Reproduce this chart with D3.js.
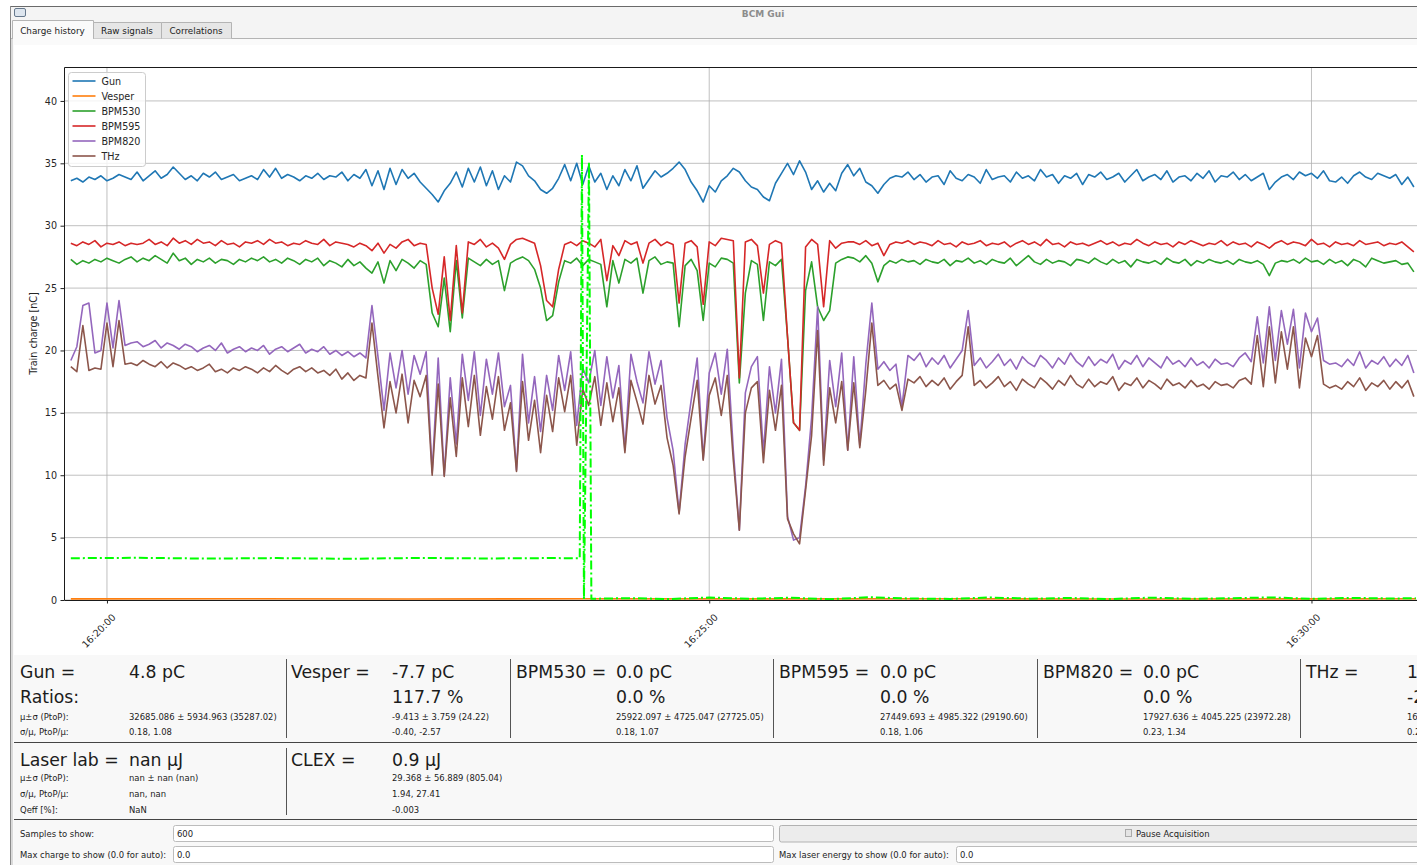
<!DOCTYPE html>
<html>
<head>
<meta charset="utf-8">
<script src="https://cdn.jsdelivr.net/npm/d3@7/dist/d3.min.js"></script>
<style>
  body { margin: 0; background: #f6f6f6; overflow: hidden; }
  svg { display: block; }
  .qt { font-family: "DejaVu Sans", sans-serif; fill: #1c1c1c; }
  .big { font-size: 17.3px; }
  .small { font-family: "DejaVu Sans Condensed", "DejaVu Sans", sans-serif; font-stretch: condensed; font-size: 9.4px; fill: #1c1c1c; }
  .mpl { font-family: "DejaVu Sans", sans-serif; font-size: 9.6px; fill: #262626; }
</style>
</head>
<body>
<div id="viz"></div>
<script>
var W = 1417, H = 865;

/***************** Data *********************/
// charge history sampled every 3 s from 16:19:42 (nC)
var startTime = "16:19:42", stepSec = 3;

var gun = [
  33.6, 33.8, 33.5, 33.9, 33.7, 34.0, 33.6, 33.8, 34.1, 33.9,
  33.7, 34.3, 33.6, 34.0, 34.4, 33.8, 34.1, 34.7, 34.2, 33.7,
  34.0, 33.6, 34.2, 33.9, 34.3, 33.7, 33.9, 34.1, 33.6, 33.8,
  34.0, 33.7, 34.5, 33.9, 34.6, 33.8, 34.1, 33.9, 33.6, 34.0,
  33.8, 34.2, 33.7, 34.0, 33.9, 34.3, 33.6, 34.1, 33.8, 34.5,
  33.2, 34.4, 32.9, 34.6, 33.3, 34.5, 33.8, 34.2, 33.5, 33.0,
  32.5, 31.9, 32.8, 33.4, 34.3, 33.1, 34.6, 33.5, 34.7, 33.2,
  34.4, 32.9, 34.0, 33.5, 35.1, 34.8, 34.0, 33.6, 32.9, 32.6,
  33.0, 33.8, 34.9, 33.6, 35.0, 33.3, 34.8, 33.5, 34.2, 32.9,
  34.0, 33.2, 34.5, 33.6, 34.8, 33.0, 33.7, 34.4, 33.9, 34.2,
  34.6, 35.1, 34.5, 33.5, 32.8, 31.9, 33.2, 32.7, 33.6, 34.0,
  34.6, 34.3, 33.6, 33.1, 32.9, 32.3, 32.0, 33.4, 34.2, 35.0,
  34.1, 35.2, 34.3, 32.9, 33.6, 32.7, 33.4, 32.8, 34.2, 34.9,
  34.0, 34.6, 33.5, 33.2, 32.6, 33.3, 33.8, 34.0, 33.9, 34.3,
  33.7, 34.1, 33.5, 33.9, 34.0, 33.3, 34.4, 33.8, 33.6, 34.1,
  33.9, 33.4, 34.5, 33.7, 33.9, 34.0, 33.5, 34.3, 33.8, 34.0,
  33.6, 34.5, 33.9, 34.1, 33.4, 34.0, 33.8, 34.2, 33.3, 34.1,
  33.9, 34.3, 33.7, 33.9, 34.2, 33.5, 34.0, 34.5, 33.6, 33.9,
  34.1, 33.7, 34.4, 33.5, 33.9, 34.0, 33.6, 34.2, 33.8, 34.4,
  33.5, 34.0, 33.9, 34.3, 33.7, 34.1, 33.6, 33.9, 34.2, 32.9,
  33.5, 33.9, 34.1, 33.7, 34.3, 34.0, 34.2, 33.8, 34.4, 33.6,
  33.5, 33.9, 33.4, 34.0, 34.3, 33.9, 33.7, 34.2, 34.0, 33.8,
  34.1, 33.3, 33.9, 33.1
];

var bpm530 = [
  27.3, 26.9, 27.2, 27.0, 27.3, 27.1, 27.4, 27.2, 27.0, 27.3,
  27.5, 27.1, 27.4, 27.2, 27.6, 27.3, 27.0, 27.8, 27.2, 27.4,
  26.9, 27.3, 27.1, 27.4, 27.0, 27.3, 27.2, 26.9, 27.3, 27.1,
  27.4, 27.2, 27.5, 27.1, 27.3, 27.0, 27.4, 27.2, 26.9, 27.3,
  27.1, 27.4, 26.8, 27.2, 27.0, 26.7, 27.3, 26.8, 27.1, 26.6,
  26.2, 27.1, 25.4, 27.2, 26.4, 27.3, 27.0, 26.6, 27.2, 26.9,
  23.0, 21.9, 25.8, 21.5, 27.2, 22.6, 27.4, 27.1, 26.8, 27.3,
  26.9, 27.2, 24.8, 27.0, 27.3, 27.5, 27.2, 26.5, 25.0, 22.4,
  22.8, 25.5, 27.2, 27.0, 27.4, 26.8, 27.3, 27.1, 26.9, 23.5,
  27.2, 25.4, 27.3, 27.0, 27.4, 24.6, 27.2, 27.5, 26.9, 27.1,
  27.0, 21.9, 26.8, 27.3, 26.4, 22.4, 27.0, 26.7, 27.4, 27.3,
  27.0, 17.4, 24.6, 27.2, 26.9, 22.4, 27.1, 26.8, 27.3, 21.1,
  14.2, 13.6, 24.8, 27.1, 23.5, 22.4, 23.2, 27.0, 27.3, 27.5,
  27.4, 27.1, 27.6, 27.0, 25.5, 26.8, 27.2, 27.0, 27.3, 27.1,
  27.2, 26.9, 27.3, 27.1, 27.0, 27.3, 26.8, 27.2, 27.1, 27.4,
  27.0, 27.2, 26.9, 27.3, 27.1, 27.0, 27.4, 26.8, 27.2, 27.6,
  27.1, 26.9, 27.3, 27.0, 27.2, 27.1, 26.8, 27.3, 27.2, 27.0,
  27.4, 27.1, 26.9, 27.3, 27.0, 27.2, 26.7, 27.3, 27.1, 27.0,
  27.2, 26.9, 27.4, 27.1, 27.0, 27.3, 26.8, 27.2, 27.0, 27.3,
  27.1, 27.0, 27.2, 26.9, 27.3, 27.1, 27.0, 27.2, 26.9, 26.0,
  27.0, 27.2, 27.1, 27.3, 27.0, 27.4, 27.1, 27.2, 26.9, 27.3,
  27.0, 27.2, 26.8, 27.3, 27.1, 26.7, 27.4, 27.2, 27.0, 27.1,
  27.2, 26.9, 27.0, 26.3
];

var bpm595 = [
  28.6, 28.4, 28.7, 28.5, 28.8, 28.3, 28.6, 28.5, 28.7, 28.4,
  28.6, 28.5, 28.6, 28.9, 28.5, 28.7, 28.4, 29.0, 28.6, 28.8,
  28.5, 28.9, 28.6, 28.7, 28.4, 28.8, 28.5, 28.6, 28.3, 28.7,
  28.6, 28.8, 28.5, 28.9, 28.6, 28.7, 28.4, 28.6, 28.5, 28.8,
  28.6, 28.5, 28.9, 28.4, 28.7, 28.6, 28.5, 28.3, 28.6, 28.4,
  28.0, 28.6, 27.8, 28.5, 28.2, 28.7, 28.9, 28.4, 28.6, 28.5,
  25.0, 22.9, 27.5, 22.4, 28.4, 23.0, 28.7, 28.5, 28.9, 28.3,
  28.6, 28.2, 27.3, 28.5, 28.9, 29.0, 28.8, 28.6, 26.8, 24.0,
  23.5, 26.5, 28.5, 28.7, 28.4, 28.8, 28.6, 28.3, 28.9, 25.6,
  28.4, 27.6, 28.8, 28.5, 28.7, 27.0, 28.6, 28.9, 28.4, 28.7,
  28.5, 23.8, 28.6, 28.8, 28.3, 23.7, 28.7, 28.4, 29.0, 28.9,
  28.8, 17.8, 28.7, 28.9, 28.4, 24.6, 28.5, 28.8, 28.6, 21.1,
  14.2, 13.6, 28.3, 28.9, 28.5, 23.5, 28.8, 28.2, 28.6, 28.7,
  28.7, 28.5, 28.8, 28.4, 28.6, 27.6, 28.5, 28.7, 28.6, 28.8,
  28.5, 28.7, 28.6, 28.4, 28.8, 28.5, 28.6, 28.3, 28.7, 28.5,
  28.6, 28.8, 28.4, 28.6, 28.5, 28.7, 28.3, 28.6, 28.8, 28.5,
  28.7, 28.4, 28.9, 28.5, 28.6, 28.3, 28.7, 28.5, 28.6, 28.4,
  28.6, 28.8, 28.5, 28.7, 28.4, 28.6, 28.5, 28.9, 28.6, 28.4,
  28.7, 28.5, 28.6, 28.3, 28.7, 28.5, 28.8, 28.6, 28.4, 28.6,
  28.5, 28.8, 28.4, 28.7, 28.5, 28.6, 28.3, 28.7, 28.5, 28.2,
  28.6, 28.8, 28.5, 28.7, 28.6, 28.4, 28.9, 28.5, 28.6, 28.3,
  28.7, 28.5, 28.6, 28.4, 28.8, 28.5, 28.6, 28.7, 28.4, 28.6,
  28.5, 28.7, 28.3, 27.9
];

var bpm820 = [
  19.2, 20.3, 23.6, 23.8, 19.8, 20.0, 23.8, 20.2, 24.0, 20.4,
  20.6, 20.7, 20.3, 20.5, 20.8, 20.2, 20.6, 20.4, 20.1, 20.5,
  20.3, 19.9, 20.2, 20.4, 20.0, 20.6, 19.8, 20.1, 20.3, 19.9,
  20.2, 20.0, 20.4, 19.7, 20.1, 20.3, 19.9, 20.2, 20.5, 19.8,
  20.1, 19.9, 20.3, 19.7, 20.0, 19.6, 19.9, 19.5, 19.8, 19.4,
  23.6, 19.5, 15.2, 19.8, 17.0, 20.0, 16.5, 19.6, 18.1, 19.9,
  10.2, 19.4, 10.0, 17.8, 12.5, 19.7, 16.0, 19.9, 14.8, 19.3,
  16.5, 19.8, 15.5, 17.2, 10.4, 19.7, 14.2, 17.9, 13.5, 18.0,
  15.2, 19.6, 16.8, 19.9, 14.0, 18.6, 17.4, 20.0, 15.6, 19.5,
  16.2, 18.8, 12.0, 19.7, 17.5, 15.8, 19.9, 17.3, 19.2, 14.6,
  12.0, 7.0, 12.5, 16.0, 19.4, 11.3, 18.2, 19.8, 16.5, 20.1,
  12.0, 5.6, 16.6, 18.7, 19.5, 11.8, 18.7, 15.0, 19.3, 6.7,
  4.8, 5.0, 9.1, 14.6, 23.5, 11.2, 19.2, 15.5, 19.8, 12.0,
  19.5, 12.4, 18.9, 23.8, 18.5, 19.1, 18.4, 18.9, 15.5, 19.6,
  19.2, 19.8, 18.7, 19.4, 18.9, 19.6, 18.6, 19.3, 20.0, 23.2,
  18.8, 19.4, 18.6, 19.1, 19.7, 18.8, 19.3, 18.5, 19.5, 19.0,
  18.7, 19.6, 19.2, 18.6, 19.4, 18.9, 19.8, 19.1, 18.7, 19.5,
  18.8, 19.3, 19.0, 19.7, 18.5, 19.2, 18.9, 19.6, 18.7, 19.4,
  19.0, 18.6, 19.5, 18.9, 19.2, 18.7, 19.4, 18.8, 19.1, 18.6,
  19.3, 18.9, 19.0, 18.7, 19.4, 19.8, 19.1, 22.7, 19.0, 23.5,
  19.2, 23.2, 20.5, 23.3, 18.6, 23.0, 21.5, 22.6, 19.2, 18.9,
  19.0, 18.7, 19.3, 18.8, 19.9, 18.6, 19.2, 18.9, 19.5, 18.7,
  19.3, 18.8, 19.6, 18.2
];

var thz = [
  18.7, 18.3, 22.0, 18.4, 18.6, 18.5, 22.2, 18.7, 22.4, 18.9,
  19.0, 18.8, 19.2, 18.9, 18.7, 19.1, 18.6, 19.0, 18.8, 18.5,
  18.7, 18.4, 18.6, 18.9, 18.3, 18.5, 18.2, 18.6, 18.4, 18.7,
  18.5, 18.2, 18.6, 18.3, 18.8, 18.4, 18.1, 18.5, 18.7, 18.3,
  18.6, 18.2, 18.4, 18.0, 18.5, 17.7, 18.2, 17.6, 18.0, 17.8,
  22.2, 17.9, 13.8, 17.5, 15.0, 18.1, 14.2, 17.6, 16.3, 18.0,
  10.0, 17.3, 9.9, 16.2, 11.5, 17.8, 13.9, 18.0, 13.2, 17.1,
  14.5, 17.9, 13.6, 15.8, 10.3, 17.5, 12.8, 16.0, 11.8, 16.4,
  13.5, 17.8, 15.1, 18.0, 12.4, 16.9, 15.6, 17.9, 14.0, 17.4,
  14.3, 17.0, 11.8, 17.6, 15.9, 14.1, 18.0, 15.7, 17.2, 13.0,
  10.8, 6.9, 11.5, 14.6, 17.6, 11.2, 16.4, 17.8, 14.8, 18.0,
  11.2, 5.6, 15.0, 17.0, 17.5, 11.0, 16.8, 13.6, 17.2, 6.5,
  5.3, 4.5, 8.8, 13.2, 21.6, 10.8, 17.0, 14.2, 17.5, 12.0,
  17.4, 12.2, 16.8, 22.2, 17.2, 17.6, 16.9, 17.3, 15.2, 17.7,
  17.4, 17.9, 17.1, 17.6, 17.2, 17.8, 16.9, 17.5, 18.0, 21.9,
  17.2, 17.6, 17.0, 17.4, 17.9, 17.1, 17.5, 16.8, 17.7, 17.3,
  17.0, 17.8, 17.4, 16.9, 17.6, 17.2, 18.0, 17.3, 17.0, 17.7,
  17.1, 17.5, 17.3, 17.9, 16.8, 17.4, 17.2, 17.8, 17.0, 17.6,
  17.3, 16.9, 17.7, 17.2, 17.4, 17.0, 17.6, 17.1, 17.3, 16.9,
  17.5, 17.2, 17.3, 17.0, 17.6, 17.8, 17.3, 21.2, 17.1, 21.9,
  17.4, 21.5, 18.5, 21.9, 17.0, 21.0, 19.5, 21.2, 17.3, 17.0,
  17.2, 16.9, 17.5, 17.1, 17.8, 16.8, 17.4, 17.1, 17.6, 16.9,
  17.5, 17.0, 17.6, 16.3
];

var vesperTimes = ["16:19:42", "16:21:00", "16:22:30", "16:24:00", "16:25:30", "16:27:00", "16:28:30", "16:30:00", "16:30:52"];
var vesper = [0.09, 0.1, 0.08, 0.1, 0.09, 0.1, 0.08, 0.09, 0.1];

// laser energy (plotted dash-dot, lime)
var clexTimes = ["16:19:42", "16:20:15", "16:20:50", "16:21:25", "16:22:00", "16:22:35", "16:23:10", "16:23:40",
  "16:23:55.5", "16:23:56.6", "16:23:57.6", "16:24:00.1", "16:24:01.3", "16:24:20", "16:24:40", "16:25:00",
  "16:25:20", "16:25:40", "16:26:00", "16:26:20", "16:26:40", "16:27:00", "16:27:20", "16:27:40", "16:28:00",
  "16:28:20", "16:28:40", "16:29:00", "16:29:20", "16:29:40", "16:30:00", "16:30:20", "16:30:40", "16:30:52"];
var clex = [3.35, 3.38, 3.32, 3.36, 3.3, 3.37, 3.33, 3.36,
  3.35, 35.7, 0.05, 35.1, 0.1, 0.15, 0.08, 0.2,
  0.1, 0.18, 0.07, 0.22, 0.12, 0.09, 0.2, 0.11, 0.16,
  0.08, 0.19, 0.1, 0.14, 0.21, 0.09, 0.17, 0.12, 0.15];

var seriesNames = ["Gun", "Vesper", "BPM530", "BPM595", "BPM820", "THz"];
var seriesColors = ["#1f77b4", "#ff7f0e", "#2ca02c", "#d62728", "#9467bd", "#8c564b"];
var yTicks = [0, 5, 10, 15, 20, 25, 30, 35, 40];
var xTickLabels = ["16:20:00", "16:25:00", "16:30:00"];
var xRange = ["16:19:38.6", "16:31:09"];
var yMax = 42.72;

// info panel
var panelLabels = ["Gun =", "Vesper =", "BPM530 =", "BPM595 =", "BPM820 =", "THz ="];
var chargeTexts = ["4.8 pC", "-7.7 pC", "0.0 pC", "0.0 pC", "0.0 pC", "16.3 pC"];
var ratioTexts = ["", "117.7 %", "0.0 %", "0.0 %", "0.0 %", "-2.1 %"];
var statTexts = ["32685.086 ± 5934.963 (35287.02)", "-9.413 ± 3.759 (24.22)", "25922.097 ± 4725.047 (27725.05)",
  "27449.693 ± 4985.322 (29190.60)", "17927.636 ± 4045.225 (23972.28)", "16305.412 ± 3810.661 (22480.17)"];
var relTexts = ["0.18, 1.08", "-0.40, -2.57", "0.18, 1.07", "0.18, 1.06", "0.23, 1.34", "0.23, 1.38"];
var laserLabels = ["Laser lab =", "CLEX ="];
var laserTexts = ["nan µJ", "0.9 µJ"];
var laserStats = ["nan ± nan (nan)", "29.368 ± 56.889 (805.04)"];
var laserRel = ["nan, nan", "1.94, 27.41"];
var qeffTexts = ["NaN", "-0.003"];

/***************** Helpers *********************/
function parseT(s) {
  var p = s.split(":");
  return new Date(2000, 0, 1, +p[0], +p[1], 0, Math.round(+p[2] * 1000));
}
var t0 = parseT(startTime).getTime();
function gridTimes(arr) {
  return arr.map(function(v, i) { return new Date(t0 + i * stepSec * 1000); });
}

var svg = d3.select("#viz").append("svg")
    .attr("width", W)
    .attr("height", H);

/***************** Window chrome *********************/
svg.append("rect").attr("width", W).attr("height", H).attr("fill", "#ffffff");
svg.append("rect").attr("x", 10).attr("y", 6).attr("width", W - 10).attr("height", H - 6).attr("fill", "#f4f4f4");
svg.append("line").attr("x1", 10).attr("x2", W).attr("y1", 6.5).attr("y2", 6.5).attr("stroke", "#6a6a6a");
svg.append("line").attr("x1", 10.5).attr("x2", 10.5).attr("y1", 6).attr("y2", H).attr("stroke", "#8a8a8a");
svg.append("rect").attr("x", 14.5).attr("y", 8.5).attr("width", 11).attr("height", 8).attr("rx", 1.5)
    .attr("fill", "#dde5ee").attr("stroke", "#66788c");
svg.append("text").attr("class", "qt").attr("x", 763).attr("y", 16.5)
    .attr("text-anchor", "middle").style("font-size", "9px").style("font-weight", "bold")
    .style("fill", "#8c8c8c").text("BCM Gui");

// tab pane
svg.append("rect").attr("x", 11).attr("y", 38).attr("width", W - 11).attr("height", H - 38).attr("fill", "#fafafa");
svg.append("line").attr("x1", 11).attr("x2", W).attr("y1", 38.5).attr("y2", 38.5).attr("stroke", "#b4b4b4");
svg.append("rect").attr("x", 11).attr("y", 39).attr("width", 2).attr("height", H - 39).attr("fill", "#dadada");

var tabs = [{ name: "Charge history", x0: 12, x1: 93 }, { name: "Raw signals", x0: 93, x1: 161 }, { name: "Correlations", x0: 161, x1: 231 }];
tabs.forEach(function(t, i) {
  var top = i === 0 ? 20.5 : 22.5;
  svg.append("path")
      .attr("d", "M" + (t.x0 + 0.5) + "," + (i === 0 ? 39 : 38.5) + "V" + top + "H" + (t.x1 + 0.5) + "V" + (i === 0 ? 39 : 38.5))
      .attr("fill", i === 0 ? "#fafafa" : "#e6e6e6")
      .attr("stroke", "#b4b4b4");
  svg.append("text").attr("class", "qt").attr("x", (t.x0 + t.x1) / 2).attr("y", 33.5)
      .attr("text-anchor", "middle").style("font-size", "8.8px").text(t.name);
});

/***************** Matplotlib figure *********************/
svg.append("rect").attr("x", 14).attr("y", 45).attr("width", W - 14).attr("height", 610).attr("fill", "#ffffff");

var plot = { left: 64, top: 67, bottom: 600, right: 1450 };
var x = d3.scaleTime().domain(xRange.map(parseT)).range([plot.left, plot.right]);
var y = d3.scaleLinear().domain([0, yMax]).range([plot.bottom, plot.top]);

svg.append("clipPath").attr("id", "plotclip").append("rect")
    .attr("x", plot.left).attr("y", plot.top)
    .attr("width", plot.right - plot.left).attr("height", plot.bottom - plot.top);

// grid
svg.append("g").selectAll("line").data(yTicks).enter().append("line")
    .attr("x1", plot.left).attr("x2", plot.right)
    .attr("y1", function(d) { return y(d); }).attr("y2", function(d) { return y(d); })
    .attr("stroke", "#b0b0b0").attr("stroke-width", 0.8);
svg.append("g").selectAll("line").data(xTickLabels).enter().append("line")
    .attr("x1", function(d) { return x(parseT(d)); }).attr("x2", function(d) { return x(parseT(d)); })
    .attr("y1", plot.top).attr("y2", plot.bottom)
    .attr("stroke", "#b0b0b0").attr("stroke-width", 0.8);

// series
var line = d3.line()
    .x(function(d) { return x(d.t); })
    .y(function(d) { return y(d.v); });

var seriesData = [
  { values: gun, times: gridTimes(gun) },
  { values: vesper, times: vesperTimes.map(parseT) },
  { values: bpm530, times: gridTimes(bpm530) },
  { values: bpm595, times: gridTimes(bpm595) },
  { values: bpm820, times: gridTimes(bpm820) },
  { values: thz, times: gridTimes(thz) }
];

var lines = svg.append("g").attr("clip-path", "url(#plotclip)");
seriesData.forEach(function(s, k) {
  var pts = s.values.map(function(v, i) { return { t: s.times[i], v: v }; });
  lines.append("path")
      .datum(pts)
      .attr("d", line)
      .attr("fill", "none")
      .attr("stroke", seriesColors[k])
      .attr("stroke-width", 1.6)
      .attr("stroke-linejoin", "round");
});

var clexPts = clex.map(function(v, i) { return { t: parseT(clexTimes[i]), v: v }; });
lines.append("path")
    .datum(clexPts)
    .attr("d", line)
    .attr("fill", "none")
    .attr("stroke", "#00ff00")
    .attr("stroke-width", 2)
    .style("stroke-dasharray", "9,3,2,3");

// axes
var yAxis = d3.axisLeft(y).tickValues(yTicks).tickSize(3.5).tickPadding(3.5);
var gy = svg.append("g")
    .attr("transform", "translate(" + plot.left + ",0)")
    .call(yAxis);
gy.select(".domain").remove();
gy.selectAll("text").attr("class", "mpl").attr("font-family", null).attr("font-size", null);
gy.selectAll("line").attr("stroke", "#222");

var xAxis = d3.axisBottom(x).tickValues(xTickLabels.map(parseT))
    .tickFormat(d3.timeFormat("%H:%M:%S")).tickSize(3.5);
var gx = svg.append("g")
    .attr("transform", "translate(0," + plot.bottom + ")")
    .call(xAxis);
gx.select(".domain").remove();
gx.selectAll("line").attr("stroke", "#222");
gx.selectAll("text")
    .attr("class", "mpl").attr("font-family", null).attr("font-size", null)
    .attr("text-anchor", "end")
    .attr("dy", "0.35em")
    .attr("transform", "translate(2,11) rotate(-45)");

// spines
svg.append("path")
    .attr("d", "M" + W + "," + (plot.top + 0.5) + "H" + (plot.left + 0.5) + "V" + (plot.bottom + 0.5) + "H" + W)
    .attr("fill", "none").attr("stroke", "#1a1a1a").attr("stroke-width", 1);

svg.append("text").attr("class", "mpl")
    .attr("transform", "translate(37," + ((plot.top + plot.bottom) / 2) + ") rotate(-90)")
    .attr("text-anchor", "middle")
    .text("Train charge [nC]");

// legend
var legend = svg.append("g").attr("transform", "translate(68.5,72.5)");
legend.append("rect").attr("width", 77).attr("height", 94).attr("rx", 3)
    .attr("fill", "#ffffff").attr("fill-opacity", 0.8).attr("stroke", "#cccccc");
seriesNames.forEach(function(n, k) {
  legend.append("line").attr("x1", 4).attr("x2", 27).attr("y1", 8.5 + k * 15).attr("y2", 8.5 + k * 15)
      .attr("stroke", seriesColors[k]).attr("stroke-width", 1.6);
  legend.append("text").attr("class", "mpl").attr("x", 33).attr("y", 12 + k * 15).text(n);
});

/***************** Info panel *********************/
svg.append("rect").attr("x", 14).attr("y", 655).attr("width", W - 14).attr("height", H - 655).attr("fill", "#f8f8f8");

var colLabelX = [20, 291, 516, 779, 1043, 1306];
var colValueX = [129, 392, 616, 880, 1143, 1407];
var sepX = [286, 510, 773, 1037, 1300];

function bigText(xp, yp, s) {
  svg.append("text").attr("class", "qt big").attr("x", xp).attr("y", yp).text(s);
}
function smallText(xp, yp, s) {
  svg.append("text").attr("class", "small").attr("x", xp).attr("y", yp).text(s);
}

panelLabels.forEach(function(l, i) {
  bigText(colLabelX[i], 677.5, l);
  bigText(colValueX[i], 677.5, chargeTexts[i]);
  bigText(colValueX[i], 702.5, ratioTexts[i]);
  smallText(colValueX[i], 719.5, statTexts[i]);
  smallText(colValueX[i], 734.5, relTexts[i]);
});
bigText(20, 702.5, "Ratios:");
smallText(20, 719.5, "µ±σ (PtoP):");
smallText(20, 734.5, "σ/µ, PtoP/µ:");
sepX.forEach(function(s) {
  svg.append("line").attr("x1", s + 0.5).attr("x2", s + 0.5).attr("y1", 659).attr("y2", 738).attr("stroke", "#555");
});
svg.append("line").attr("x1", 14).attr("x2", W).attr("y1", 742.5).attr("y2", 742.5).attr("stroke", "#444");

laserLabels.forEach(function(l, i) {
  bigText(colLabelX[i], 765.5, l);
  bigText(colValueX[i], 765.5, laserTexts[i]);
  smallText(colValueX[i], 780.5, laserStats[i]);
  smallText(colValueX[i], 796.5, laserRel[i]);
  smallText(colValueX[i], 812.5, qeffTexts[i]);
});
smallText(20, 780.5, "µ±σ (PtoP):");
smallText(20, 796.5, "σ/µ, PtoP/µ:");
smallText(20, 812.5, "Qeff [%]:");
svg.append("line").attr("x1", 286.5).attr("x2", 286.5).attr("y1", 748).attr("y2", 815).attr("stroke", "#555");
svg.append("line").attr("x1", 14).attr("x2", W).attr("y1", 819.5).attr("y2", 819.5).attr("stroke", "#444");

// controls
function inputBox(x0, y0, w, val) {
  svg.append("rect").attr("x", x0 + 0.5).attr("y", y0 + 0.5).attr("width", w).attr("height", 16).attr("rx", 2)
      .attr("fill", "#ffffff").attr("stroke", "#bcbcbc");
  smallText(x0 + 4, y0 + 11.5, val);
}
smallText(20, 836.5, "Samples to show:");
inputBox(173, 825, 600, "600");
svg.append("rect").attr("x", 779.5).attr("y", 825.5).attr("width", 650).attr("height", 16.5).attr("rx", 2)
    .attr("fill", "#ececec").attr("stroke", "#b2b2b2");
svg.append("rect").attr("x", 1125.5).attr("y", 829.5).attr("width", 6).attr("height", 7)
    .attr("fill", "#e4e4e4").attr("stroke", "#aaaaaa");
smallText(1136, 836.5, "Pause Acquisition");
smallText(20, 857.5, "Max charge to show (0.0 for auto):");
inputBox(173, 846, 600, "0.0");
smallText(779, 857.5, "Max laser energy to show (0.0 for auto):");
inputBox(956, 846, 480, "0.0");
</script>
</body>
</html>
